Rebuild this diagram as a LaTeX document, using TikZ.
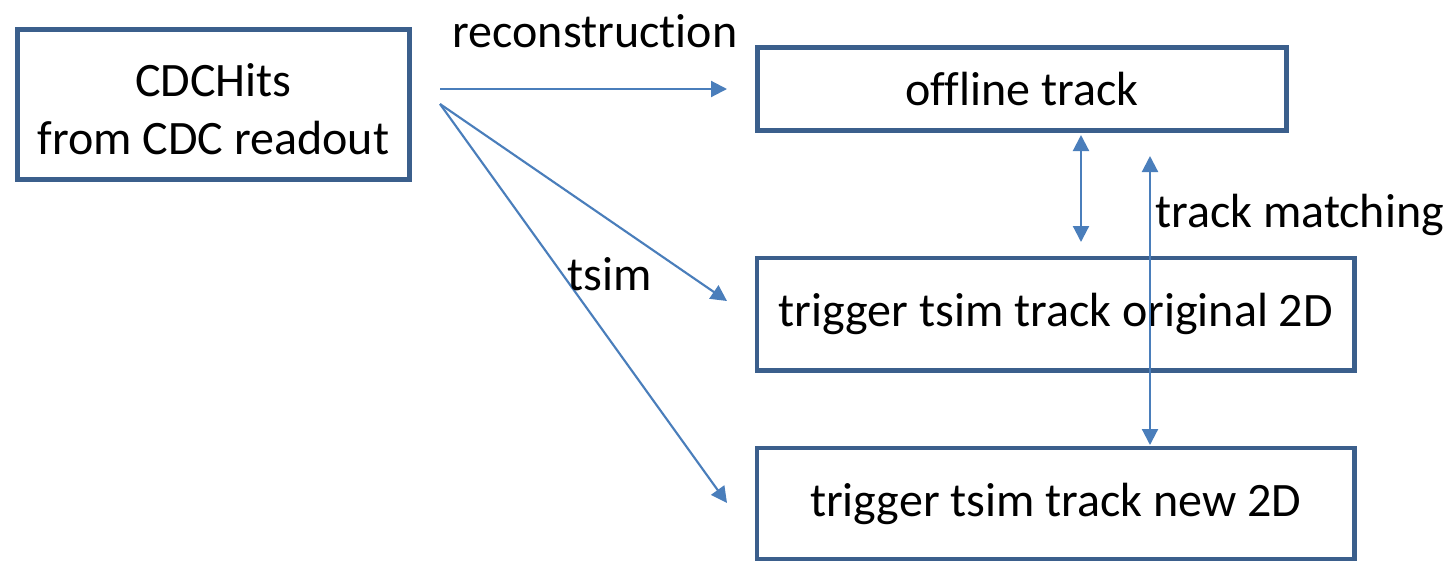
\documentclass[tikz,border=0pt]{standalone}
\usepackage{fontspec}
\setmainfont{Carlito}[Ligatures=NoCommon]
\usetikzlibrary{arrows.meta}
\definecolor{boxblue}{HTML}{3B5F8C}
\definecolor{arrowblue}{HTML}{4A7EBB}
\tikzset{
  stagebox/.style={draw=boxblue, line width=3.7pt, rectangle, inner sep=0pt, align=center,
    font=\fontsize{36}{43.5}\selectfont},
  flow/.style={draw=arrowblue, line width=1.6pt, -{Triangle[length=12pt,width=12pt]}},
  bothflow/.style={draw=arrowblue, line width=1.6pt, {Triangle[length=12pt,width=12pt]}-{Triangle[length=12pt,width=12pt]}},
  lbl/.style={font=\fontsize{36}{43.5}\selectfont, anchor=base, inner sep=0pt}
}
\begin{document}
\begin{tikzpicture}[x=0.75pt,y=-0.75pt]
\useasboundingbox (0,0) rectangle (1450,562);
\node[stagebox, minimum width=392*0.75pt, minimum height=150*0.75pt, text height=76pt] (cdc) at (213.5,104.5) {CDCHits\\from CDC readout};
\node[stagebox, minimum width=529.5*0.75pt, minimum height=83*0.75pt] (off) at (1022,89) {offline track};
\node[stagebox, minimum width=597.5*0.75pt, minimum height=112.5*0.75pt] (orig) at (1055.75,314.25) {trigger tsim track original 2D};
\node[stagebox, minimum width=597.5*0.75pt, minimum height=111*0.75pt] (new) at (1055.75,503.5) {trigger tsim track new 2D};

\coordinate (recS) at (440,89);
\coordinate (recE) at (727,89);
\coordinate (tsS) at (440,104);
\coordinate (ts1) at (727,301);
\coordinate (ts2) at (727,503);
\coordinate (dA) at (1081,135);
\coordinate (dB) at (1081,242);
\coordinate (mA) at (1150,156);
\coordinate (mB) at (1150,445);

\draw[flow] (recS) -- (recE);
\draw[flow] (tsS) -- (ts1);
\draw[flow] (tsS) -- (ts2);
\draw[bothflow] (dA) -- (dB);
\draw[bothflow] (mA) -- (mB);

\node[lbl] (lrec) at (595,47) {reconstruction};
\node[lbl] (ltsim) at (610,290) {tsim};
\node[lbl, anchor=base west] (lmatch) at (1155,227) {track matching};
\end{tikzpicture}
\end{document}
